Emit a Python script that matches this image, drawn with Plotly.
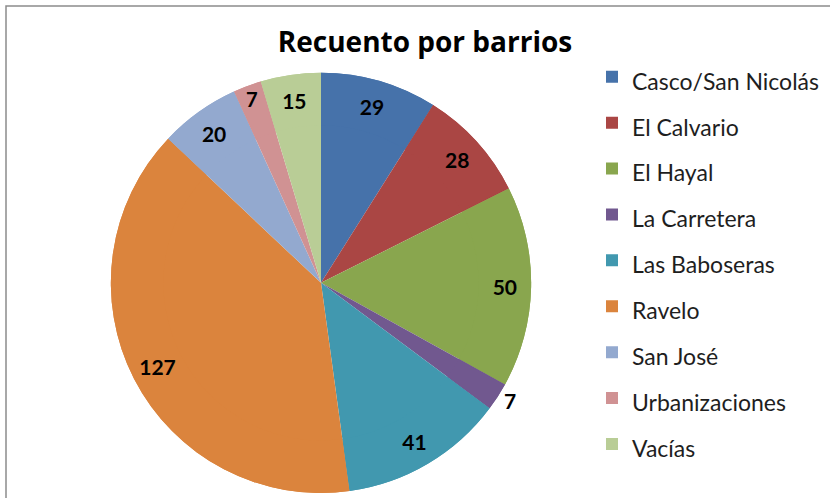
import plotly.graph_objects as go

labels = ["Casco/San Nicolás", "El Calvario", "El Hayal", "La Carretera",
          "Las Baboseras", "Ravelo", "San José", "Urbanizaciones", "Vacías"]
values = [29, 28, 50, 7, 41, 127, 20, 7, 15]
colors = ["#4672AA", "#AA4644", "#89A64E", "#71588F", "#4198AF",
          "#DB843D", "#93A9CF", "#D09293", "#B9CD96"]
text_positions = ["inside", "inside", "inside", "outside", "inside",
                  "inside", "inside", "inside", "inside"]

W, H = 830, 498
cx, cy, r = 321, 284, 211
domain = dict(x=[(cx - r) / W, (cx + r) / W],
              y=[(H - cy - r) / H, (H - cy + r) / H])

legend_labels = [f"<span style='font-size:23px'>{l}</span>" for l in labels]

common = dict(
    labels=legend_labels,
    values=values,
    sort=False,
    direction="clockwise",
    rotation=0,
    marker=dict(colors=colors, line=dict(width=0)),
    domain=domain,
    hoverinfo="label+value",
)

# full pie body (no labels)
base = go.Pie(**common, showlegend=False, textinfo="none")
# ring on top carrying the data labels near the rim
ring = go.Pie(**common, hole=0.75, textinfo="value",
              textposition=text_positions,
              insidetextorientation="horizontal",
              textfont=dict(family="Lato", size=21, color="black", weight="bold"))

fig = go.Figure([base, ring])

fig.update_layout(
    width=W, height=H,
    margin=dict(l=0, r=0, t=0, b=0),
    paper_bgcolor="white",
    font=dict(family="Lato", color="#222"),
    title=dict(text="<b>Recuento por barrios</b>", x=425 / W, xanchor="center",
               y=(H - 42.5) / H, yanchor="middle",
               font=dict(family="Open Sans", size=28, color="black")),
    legend=dict(x=592 / W, xanchor="left", y=(H - 49) / H, yanchor="top",
                font=dict(family="Lato", size=33, color="#1e1e1e"),
                bgcolor="rgba(0,0,0,0)", traceorder="normal"),
    shapes=[dict(type="rect", xref="paper", yref="paper",
                 x0=6 / W, x1=1.05, y0=-0.05, y1=(H - 6) / H,
                 line=dict(color="#8c8c8c", width=1.5), layer="below")],
)

fig.write_html("out.html",
               config={"displayModeBar": False},
               post_script="document.body.style.margin='0';document.body.style.overflow='hidden';")
